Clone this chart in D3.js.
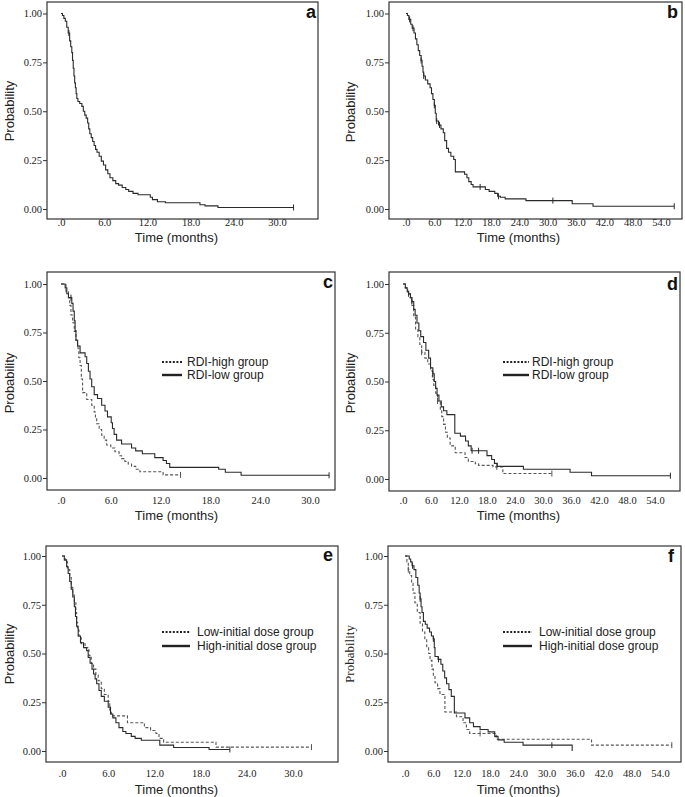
<!DOCTYPE html>
<html><head><meta charset="utf-8">
<script src="https://cdn.jsdelivr.net/npm/d3@7"></script>
<style>body{margin:0;background:#fff}svg{display:block}</style>
</head><body>
<svg id="chart" width="685" height="797"></svg>
<script>
// ---------- data ----------
const yTicks = [0, 0.25, 0.5, 0.75, 1];
const xTicks30 = [0, 6, 12, 18, 24, 30];
const xTicks54 = [0, 6, 12, 18, 24, 30, 36, 42, 48, 54];
const legendRDI = ["RDI-high group", "RDI-low group"];
const legendDose = ["Low-initial dose group", "High-initial dose group"];
const panelLetters = ["a", "b", "c", "d", "e", "f"];

// Panel a: overall (steps: [time, survival after drop])
const survA = [[0,1],[0.2,0.99],[0.4,0.975],[0.6,0.96],[0.8,0.93],[1.0,0.9],[1.2,0.86],[1.35,0.83],[1.5,0.80],[1.6,0.76],[1.7,0.72],[1.8,0.68],[1.9,0.645],[2.0,0.62],[2.1,0.59],[2.2,0.565],[2.35,0.55],[2.6,0.54],[2.9,0.525],[3.1,0.50],[3.3,0.48],[3.5,0.465],[3.7,0.44],[3.85,0.41],[4.0,0.385],[4.2,0.365],[4.4,0.345],[4.6,0.325],[4.8,0.305],[5.0,0.29],[5.3,0.27],[5.6,0.245],[5.9,0.225],[6.2,0.2],[6.5,0.18],[6.8,0.16],[7.2,0.145],[7.6,0.13],[8.0,0.122],[8.5,0.11],[9.0,0.1],[9.4,0.09],[10.0,0.08],[10.7,0.073],[12.4,0.06],[12.7,0.048],[13.4,0.037],[14.5,0.032],[19.3,0.022],[20.0,0.016],[21.8,0.008]];
const endA = 32.3;
const censA = [1.1];

// Panel b: overall
const survB = [[0,1],[0.3,0.99],[0.6,0.97],[1.0,0.945],[1.3,0.925],[1.7,0.9],[2.0,0.87],[2.3,0.84],[2.6,0.81],[2.9,0.785],[3.2,0.76],[3.4,0.73],[3.6,0.70],[3.75,0.68],[4.1,0.66],[4.6,0.64],[5.1,0.62],[5.4,0.59],[5.7,0.56],[6.0,0.53],[6.2,0.49],[6.4,0.45],[6.9,0.43],[7.4,0.41],[7.9,0.39],[8.2,0.35],[8.6,0.31],[9.0,0.29],[9.5,0.27],[10.1,0.253],[10.45,0.19],[12.4,0.178],[12.9,0.16],[13.3,0.14],[13.8,0.125],[14.2,0.113],[16.8,0.1],[17.6,0.09],[18.8,0.08],[19.4,0.065],[20.0,0.06],[21.0,0.052],[25.4,0.043],[35.2,0.027],[39.6,0.014]];
const endB = 56.8;
const censB = [0.77,1.48,3.2,3.75,6.0,6.5,7.1,15.7,19.6,31.1];

// Panel c: RDI-high (dashed) / RDI-low (solid)
const survCHigh = [[0,1],[0.6,0.96],[0.9,0.93],[1.05,0.89],[1.2,0.84],[1.4,0.80],[1.6,0.755],[1.8,0.71],[2.0,0.67],[2.15,0.62],[2.3,0.58],[2.45,0.51],[2.6,0.44],[3.1,0.405],[3.7,0.375],[4.0,0.34],[4.15,0.31],[4.3,0.28],[4.6,0.25],[4.9,0.22],[5.2,0.195],[5.5,0.17],[6.0,0.155],[6.5,0.135],[7.0,0.115],[7.3,0.10],[7.7,0.085],[8.1,0.072],[8.5,0.06],[9.0,0.045],[9.5,0.032],[12.3,0.016]];
const endCHigh = 14.4;
const censCHigh = [];
const survCLow = [[0,1],[0.5,0.98],[0.7,0.95],[0.9,0.93],[1.3,0.9],[1.45,0.86],[1.6,0.81],[1.7,0.76],[1.8,0.71],[2.0,0.68],[2.3,0.645],[2.9,0.625],[3.1,0.59],[3.3,0.55],[3.5,0.51],[3.7,0.47],[4.0,0.43],[4.4,0.41],[4.9,0.375],[5.3,0.345],[5.6,0.315],[6.05,0.285],[6.2,0.255],[6.4,0.225],[6.7,0.195],[7.3,0.175],[8.5,0.155],[9.0,0.14],[9.8,0.125],[11.3,0.105],[12.3,0.09],[12.7,0.075],[13.1,0.055],[19.0,0.045],[19.8,0.03],[21.7,0.014]];
const endCLow = 32.3;
const censCLow = [1.2];

// Panel d: RDI-high (dashed) / RDI-low (solid)
const survDHigh = [[0,1],[0.5,0.98],[1.0,0.95],[1.5,0.93],[1.9,0.89],[2.3,0.83],[2.7,0.77],[3.2,0.73],[3.6,0.69],[4.0,0.65],[4.7,0.62],[5.3,0.59],[5.9,0.555],[6.3,0.51],[6.6,0.48],[7.0,0.44],[7.4,0.40],[8.0,0.355],[8.3,0.32],[8.7,0.28],[9.1,0.24],[9.5,0.21],[10.1,0.17],[11.2,0.135],[13.3,0.11],[14.0,0.09],[15.5,0.078],[16.2,0.07],[19.3,0.062],[21.4,0.028]];
const endDHigh = 31.9;
const censDHigh = [4.0,7.4,20.1];
const survDLow = [[0,1],[0.5,0.98],[0.9,0.96],[1.2,0.95],[1.6,0.93],[1.9,0.91],[2.3,0.87],[2.6,0.84],[3.0,0.80],[3.4,0.76],[3.8,0.73],[4.4,0.70],[4.9,0.66],[5.5,0.62],[5.9,0.57],[6.4,0.54],[6.7,0.50],[7.0,0.465],[7.3,0.43],[7.7,0.40],[8.2,0.37],[8.7,0.35],[9.4,0.33],[11.1,0.235],[12.3,0.22],[13.4,0.195],[14.0,0.17],[14.6,0.145],[18.0,0.12],[19.0,0.10],[19.6,0.08],[20.2,0.065],[25.8,0.05],[35.8,0.035],[40.4,0.017]];
const endDLow = 57.3;
const censDLow = [1.2,1.9,6.4,14.8,16.2];

// Panel e: Low-initial (dashed) / High-initial (solid)
const survELow = [[0,1],[0.4,0.97],[0.7,0.93],[1.0,0.89],[1.2,0.84],[1.4,0.80],[1.6,0.76],[1.8,0.71],[1.9,0.66],[2.0,0.62],[2.2,0.58],[2.5,0.55],[3.0,0.53],[3.5,0.49],[3.8,0.45],[4.1,0.42],[4.4,0.39],[4.7,0.36],[5.1,0.32],[5.5,0.29],[6.0,0.255],[6.2,0.21],[6.4,0.18],[8.5,0.145],[10.7,0.12],[11.5,0.105],[12.2,0.09],[12.6,0.065],[13.2,0.045],[20.0,0.02]];
const endELow = 32.4;
const censELow = [];
const survEHigh = [[0,1],[0.3,0.98],[0.6,0.945],[0.8,0.91],[1.0,0.87],[1.2,0.83],[1.4,0.79],[1.6,0.74],[1.75,0.69],[1.9,0.64],[2.1,0.59],[2.4,0.555],[2.8,0.53],[3.2,0.515],[3.4,0.48],[3.65,0.45],[3.9,0.42],[4.1,0.395],[4.3,0.37],[4.5,0.345],[4.8,0.31],[5.1,0.28],[5.5,0.255],[6.0,0.225],[6.3,0.19],[6.6,0.17],[7.0,0.145],[7.4,0.12],[7.9,0.10],[8.3,0.09],[9.0,0.075],[9.5,0.065],[10.3,0.055],[12.7,0.03],[14.5,0.018],[19.1,0.008]];
const endEHigh = 21.8;
const censEHigh = [];

// Panel f: Low-initial (dashed) / High-initial (solid)
const survFLow = [[0,1],[0.4,0.97],[0.7,0.93],[1.0,0.9],[1.4,0.86],[1.7,0.81],[2.1,0.76],[2.6,0.71],[3.2,0.655],[3.7,0.61],[4.2,0.57],[4.6,0.53],[5.0,0.50],[5.3,0.465],[5.7,0.42],[6.0,0.385],[6.35,0.35],[6.9,0.32],[7.4,0.29],[8.45,0.20],[10.9,0.176],[12.3,0.145],[13.0,0.11],[13.7,0.09],[19.3,0.06],[39.5,0.03]];
const endFLow = 56.5;
const censFLow = [0.7,15.9];
const survFHigh = [[0,1],[0.9,0.985],[1.2,0.97],[1.5,0.95],[1.9,0.93],[2.3,0.89],[2.7,0.85],[3.0,0.81],[3.2,0.78],[3.4,0.74],[3.6,0.71],[3.9,0.665],[4.3,0.65],[4.7,0.63],[5.2,0.61],[5.6,0.59],[6.0,0.575],[6.2,0.53],[6.35,0.485],[7.0,0.47],[7.6,0.445],[8.0,0.41],[8.4,0.375],[8.8,0.345],[9.3,0.315],[9.8,0.28],[10.45,0.195],[12.7,0.17],[13.7,0.145],[14.5,0.125],[15.9,0.11],[17.6,0.098],[19.0,0.075],[19.7,0.057],[21.0,0.045],[25.0,0.03],[35.4,0]];
const endFHigh = 35.4;
const censFHigh = [1.6,3.2,6.0,7.1,31.1];

// ---------- layout ----------
const SANS = "'Liberation Sans', Arial, sans-serif";
const SERIF = "'Liberation Serif', 'Times New Roman', serif";

const panels = [
  {letter:panelLetters[0], frame:[47,2,318,219], xr:[61,277], xmax:30, ticks:xTicks30, yr:[209,13.5], tickLabY:222, title:[176.5,237], prob:[9,111], probFont:SANS, let:[316,18],
   curves:[{data:survA,end:endA,cens:censA,dash:false}]},
  {letter:panelLetters[1], frame:[389,2,682,219], xr:[406,661], xmax:54, ticks:xTicks54, yr:[209,13.5], tickLabY:222, title:[518.5,237], prob:[350,112], probFont:SANS, let:[678,18],
   curves:[{data:survB,end:endB,cens:censB,dash:false}]},
  {letter:panelLetters[2], frame:[47,272,335,490], xr:[61,310], xmax:30, ticks:xTicks30, yr:[478,284], tickLabY:500, title:[176.5,515], prob:[9,383], probFont:SANS, let:[333,288],
   legend:{names:legendRDI, x:[162,182], tx:187, y:[362,375]},
   curves:[{data:survCHigh,end:endCHigh,cens:censCHigh,dash:true},{data:survCLow,end:endCLow,cens:censCLow,dash:false}]},
  {letter:panelLetters[3], frame:[389,272,680,491], xr:[403,655], xmax:54, ticks:xTicks54, yr:[479,284], tickLabY:500, title:[518.5,515], prob:[350,383], probFont:SANS, let:[678,290],
   legend:{names:legendRDI, x:[503,529], tx:532, y:[362,375]},
   curves:[{data:survDHigh,end:endDHigh,cens:censDHigh,dash:true},{data:survDLow,end:endDLow,cens:censDLow,dash:false}]},
  {letter:panelLetters[4], frame:[46,546,338,762], xr:[62,293], xmax:30, ticks:xTicks30, yr:[751,556], tickLabY:773, title:[176.5,789], prob:[9,654], probFont:SANS, let:[333,561],
   legend:{names:legendDose, x:[162,190], tx:197, y:[632,646]},
   curves:[{data:survELow,end:endELow,cens:censELow,dash:true},{data:survEHigh,end:endEHigh,cens:censEHigh,dash:false}]},
  {letter:panelLetters[5], frame:[388,546,681,762], xr:[405,660], xmax:54, ticks:xTicks54, yr:[751,556], tickLabY:773, title:[518.5,789], prob:[349,654], probFont:SERIF, let:[674,562],
   legend:{names:legendDose, x:[503,532], tx:539, y:[632,646]},
   curves:[{data:survFLow,end:endFLow,cens:censFLow,dash:true},{data:survFHigh,end:endFHigh,cens:censFHigh,dash:false}]}
];

const svg = d3.select("#chart");
const fmtX = d => d === 0 ? ".0" : d.toFixed(1);
const fmtY = d => d.toFixed(2);

function survAt(data, t) {
  let s = 1;
  for (const [tt, ss] of data) { if (tt <= t) s = ss; else break; }
  return s;
}

panels.forEach(p => {
  const g = svg.append("g");
  const [fx0, fy0, fx1, fy1] = p.frame;
  const x = d3.scaleLinear().domain([0, p.xmax]).range(p.xr);
  const y = d3.scaleLinear().domain([0, 1]).range(p.yr);

  // frame
  g.append("rect").attr("x", fx0).attr("y", fy0).attr("width", fx1 - fx0).attr("height", fy1 - fy0)
    .attr("fill", "#fff").attr("stroke", "#333").attr("stroke-width", 1.2);

  // y axis
  const yAxis = d3.axisLeft(y).tickValues(yTicks).tickFormat(fmtY).tickSizeInner(4).tickSizeOuter(0).tickPadding(1);
  const ya = g.append("g").attr("transform", `translate(${fx0},0)`).call(yAxis);
  ya.select(".domain").remove();
  ya.selectAll("line").attr("stroke", "#333");
  ya.selectAll("text").attr("font-family", SERIF).attr("font-size", 10.5).attr("fill", "#222");

  // x axis (labels only)
  const xAxis = d3.axisBottom(x).tickValues(p.ticks).tickFormat(fmtX).tickSizeInner(0).tickSizeOuter(0).tickPadding(0);
  const xa = g.append("g").attr("transform", `translate(0,${p.tickLabY})`).call(xAxis);
  xa.select(".domain").remove();
  xa.selectAll("text").attr("dy", "0.35em").attr("y", 0).attr("font-family", SERIF).attr("font-size", 10.5).attr("fill", "#222");

  // titles
  g.append("text").attr("x", p.title[0]).attr("y", p.title[1]).attr("dy", "0.35em").attr("text-anchor", "middle")
    .attr("font-family", SANS).attr("font-size", 13).attr("fill", "#222").text("Time (months)");
  g.append("text").attr("transform", `translate(${p.prob[0]},${p.prob[1]}) rotate(-90)`).attr("dy", "0.35em").attr("text-anchor", "middle")
    .attr("font-family", p.probFont).attr("font-size", 13).attr("fill", "#222").text("Probability");
  g.append("text").attr("x", p.let[0]).attr("y", p.let[1]).attr("text-anchor", "end")
    .attr("font-family", SANS).attr("font-weight", "bold").attr("font-size", 18).attr("fill", "#111").text(p.letter);

  // curves
  const line = d3.line().x(d => x(d[0])).y(d => y(d[1])).curve(d3.curveStepAfter);
  p.curves.forEach(c => {
    const last = c.data[c.data.length - 1];
    const pts = c.data.concat(last[0] < c.end ? [[c.end, last[1]]] : []);
    g.append("path").attr("d", line(pts)).attr("fill", "none")
      .attr("stroke", c.dash ? "#555" : "#2a2a2a").attr("stroke-width", 1.1)
      .attr("stroke-dasharray", c.dash ? "3,2" : null);
    const marks = c.cens.slice();
    if (last[1] > 0) marks.push(c.end);
    g.selectAll(null).data(marks).enter().append("line")
      .attr("x1", t => x(t)).attr("x2", t => x(t))
      .attr("y1", t => y(survAt(c.data, t)) - 3).attr("y2", t => y(survAt(c.data, t)) + 3)
      .attr("stroke", c.dash ? "#555" : "#2a2a2a").attr("stroke-width", 1);
  });

  // legend
  if (p.legend) {
    const L = p.legend;
    L.names.forEach((name, i) => {
      g.append("line").attr("x1", L.x[0]).attr("x2", L.x[1]).attr("y1", L.y[i]).attr("y2", L.y[i])
        .attr("stroke", "#222").attr("stroke-width", i === 0 ? 2 : 2.4)
        .attr("stroke-dasharray", i === 0 ? "2,1.6" : null);
      g.append("text").attr("x", L.tx).attr("y", L.y[i]).attr("dy", "0.35em")
        .attr("font-family", SANS).attr("font-size", 12).attr("fill", "#222").text(name);
    });
  }
});
</script>
</body></html>
